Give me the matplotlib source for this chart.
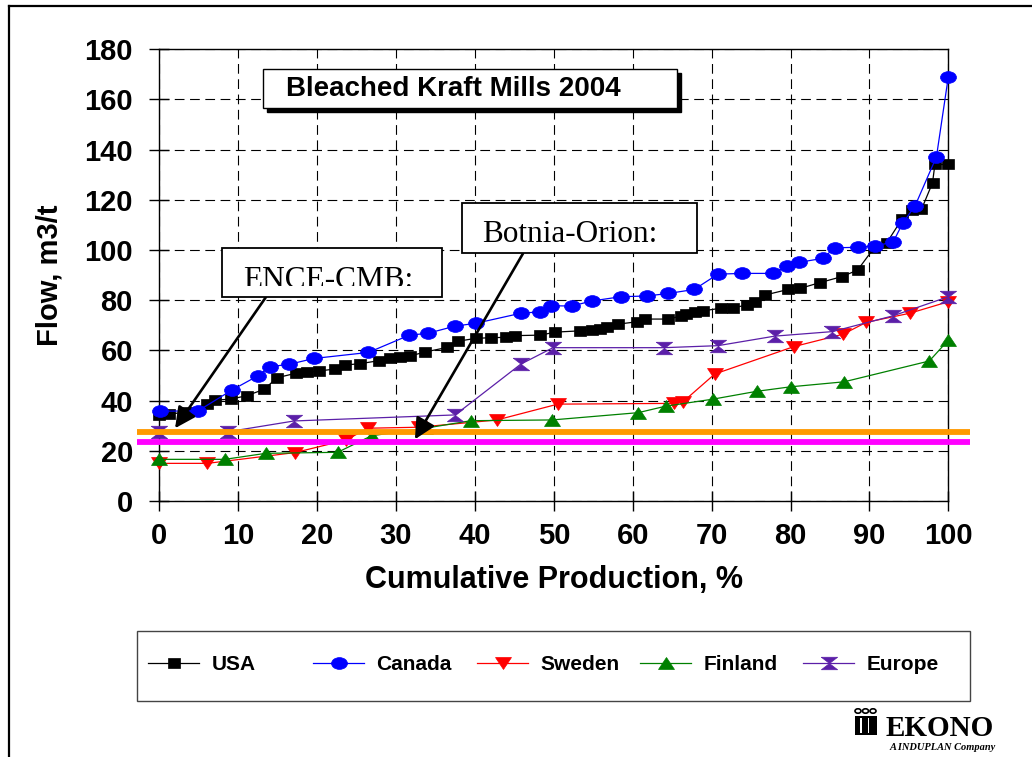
import matplotlib
matplotlib.use("Agg")
import matplotlib.pyplot as plt
from matplotlib import font_manager as fm
from matplotlib.markers import MarkerStyle
from matplotlib.path import Path
from matplotlib.transforms import Affine2D
from matplotlib.patches import Rectangle, Circle
from matplotlib.lines import Line2D

# ---- data (cumulative production %, flow m3/t) ----
usa_x = [0.0, 1.2, 3.5, 6.0, 7.1, 9.1, 11.1, 13.3, 14.9, 17.3, 18.7, 20.2, 22.3, 23.5,
         25.4, 27.8, 29.2, 30.5, 31.8, 33.7, 36.5, 37.9, 40.1, 42.1, 43.9, 45.1, 48.3,
         50.2, 53.3, 54.9, 55.9, 56.8, 58.2, 60.5, 61.6, 64.5, 66.1, 66.8, 67.9, 68.9,
         71.2, 72.7, 74.5, 75.5, 76.8, 79.7, 81.2, 83.7, 86.5, 88.5, 90.6, 92.2, 94.1,
         95.4, 96.6, 98.0, 98.3, 100.0]
usa_y = [34.3, 34.5, 35.6, 38.6, 40.2, 40.6, 42.0, 44.5, 49.1, 50.9, 51.3, 51.8, 52.6, 54.2,
         54.7, 55.9, 56.8, 57.5, 57.8, 59.4, 61.2, 63.7, 64.8, 65.1, 65.2, 65.9, 66.1,
         67.3, 67.8, 68.1, 68.5, 69.5, 70.5, 71.4, 72.5, 72.5, 73.7, 74.4, 75.4, 75.8,
         76.8, 77.0, 78.1, 79.4, 82.1, 84.3, 84.7, 87.0, 89.4, 92.0, 100.9, 102.9, 112.2,
         115.9, 116.2, 126.8, 134.1, 134.1]

canada_x = [0.1, 4.9, 9.2, 12.5, 14.0, 16.5, 19.6, 26.5, 31.7, 34.0, 37.5, 40.1, 45.8, 48.3,
            49.7, 52.3, 54.8, 58.5, 61.8, 64.5, 67.8, 70.8, 73.9, 77.8, 79.6, 81.1, 84.1,
            85.6, 88.6, 90.7, 93.0, 94.2, 95.8, 98.5, 100.0]
canada_y = [35.8, 35.9, 44.2, 49.9, 53.5, 54.5, 56.8, 59.2, 66.1, 66.8, 69.7, 70.8, 74.8, 75.4,
            77.8, 77.7, 79.7, 81.4, 81.7, 82.7, 84.3, 90.4, 90.7, 90.7, 93.8, 95.1, 96.7,
            100.9, 101.1, 101.7, 103.1, 110.6, 117.7, 137.2, 169.0]

sweden_x = [0.0, 6.1, 17.2, 23.7, 26.4, 32.9, 42.8, 50.5, 65.2, 66.4, 70.4, 80.4, 86.7, 89.6,
            95.1, 100.0]
sweden_y = [15.0, 15.0, 19.3, 24.3, 29.0, 29.4, 32.3, 38.6, 38.9, 39.6, 50.6, 61.5, 66.5, 71.2,
            74.8, 79.4]

finland_x = [0.0, 8.3, 13.5, 22.6, 26.9, 33.7, 39.5, 49.8, 60.7, 64.2, 70.2, 75.7, 80.0, 86.8,
             97.6, 100.0]
finland_y = [16.6, 16.6, 19.0, 19.4, 26.0, 29.0, 32.0, 32.3, 35.2, 37.8, 40.6, 43.7, 45.5, 47.5,
             55.8, 64.1]

europe_x = [0.0, 8.7, 17.1, 37.5, 45.8, 49.9, 64.0, 70.8, 78.0, 85.3, 93.0, 100.0]
europe_y = [27.6, 27.6, 31.9, 34.3, 54.5, 61.1, 61.1, 61.9, 65.7, 67.5, 73.8, 81.4]

ence_level = 27.6
botnia_level = 23.7

series_names = ["USA", "Canada", "Sweden", "Finland", "Europe"]
x_ticks = list(range(0, 101, 10))
y_ticks = list(range(0, 181, 20))

# ---- fonts ----
plt.rcParams["lines.scale_dashes"] = False
names = {f.name for f in fm.fontManager.ttflist}
SANS = "Liberation Sans" if "Liberation Sans" in names else "DejaVu Sans"
SERIF = "Liberation Serif" if "Liberation Serif" in names else "DejaVu Serif"
NARROW = "Liberation Sans Narrow" if "Liberation Sans Narrow" in names else SANS
plt.rcParams["font.family"] = [SANS, "DejaVu Sans"]

W, H = 1032, 757
fig = plt.figure(figsize=(W / 100, H / 100), dpi=100)


def fx(px):
    return px / W


def fy(py):
    return 1 - py / H


ax = fig.add_axes([fx(159.3), fy(501), fx(948.3) - fx(159.3), fy(49.3) - fy(501)])


def stretched(m, sx):
    return MarkerStyle(m, transform=Affine2D().scale(sx, 1.0))


hourglass = Path([(-0.5, 0.5), (0.5, 0.5), (0, 0), (0.5, -0.5), (-0.5, -0.5), (0, 0), (-0.5, 0.5)])

styles = [
    (usa_x, usa_y, "black", stretched("s", 1.2), 7),
    (canada_x, canada_y, "#0000FF", stretched("o", 1.35), 8.5),
    (sweden_x, sweden_y, "#FF0000", stretched("v", 1.45), 8),
    (finland_x, finland_y, "#008000", stretched("^", 1.4), 8.5),
    (europe_x, europe_y, "#5B1FA8", stretched(hourglass, 1.3), 9),
]
handles = []
for (xs, ys, col, mk, ms), name in zip(styles, series_names):
    ln, = ax.plot(xs, ys, color=col, lw=0.9, marker=mk, ms=ms, mfc=col, mec=col,
                  mew=0.5, clip_on=False, zorder=3, label=name)
    handles.append(ln)

# reference levels, drawn a bit past the frame
ax.plot([-2.8, 102.7], [ence_level, ence_level], color="#FF9900", lw=4.2,
        clip_on=False, zorder=5, solid_capstyle="butt")
ax.plot([-2.8, 102.7], [botnia_level, botnia_level], color="#FF00FF", lw=4.2,
        clip_on=False, zorder=5, solid_capstyle="butt")

ax.set_xlim(0, 100)
ax.set_ylim(0, 180)
ax.set_xticks(x_ticks)
ax.set_yticks(y_ticks)
ax.grid(True, color="black", lw=0.8, ls=(0, (7, 4)))
ax.set_axisbelow(True)
for s in ax.spines.values():
    s.set_linewidth(1.0)
ax.tick_params(direction="inout", length=14, width=1, labelsize=21)
ax.tick_params(axis="y", pad=12)
ax.tick_params(axis="x", pad=8)
for lab in ax.get_xticklabels() + ax.get_yticklabels():
    lab.set_fontweight("bold")
ax.set_xlabel("Cumulative Production, %", fontsize=22, fontweight="bold", labelpad=11)
ax.set_ylabel("Flow, m3/t", fontsize=21, fontweight="bold", labelpad=15)

# ---- title box with shadow ----
fig.add_artist(Rectangle((fx(266.7), fy(111.7)), fx(676.7) - fx(262.7), fy(69.3) - fy(107.7),
                         transform=fig.transFigure, facecolor="black", edgecolor="black", zorder=6))
fig.add_artist(Rectangle((fx(262.7), fy(107.7)), fx(676.7) - fx(262.7), fy(69.3) - fy(107.7),
                         transform=fig.transFigure, facecolor="white", edgecolor="black",
                         lw=1, zorder=7))
fig.text(fx(286), fy(89), "Bleached Kraft Mills 2004", fontsize=20, fontweight="bold",
         ha="left", va="center", zorder=8)

# ---- annotation boxes ----
fig.add_artist(Rectangle((fx(221.7), fy(296.7)), fx(441.7) - fx(221.7), fy(248.3) - fy(296.7),
                         transform=fig.transFigure, facecolor="white", edgecolor="black",
                         lw=1.3, zorder=7))
clip = Rectangle((fx(223), fy(285.5)), fx(440) - fx(223), fy(250) - fy(285.5),
                 transform=fig.transFigure)
t = fig.text(fx(243), fy(287.5), "ENCE-CMB:", fontsize=22.5, family=SERIF,
             ha="left", va="baseline", zorder=8)
t.set_clip_path(clip)

fig.add_artist(Rectangle((fx(461.7), fy(253.3)), fx(697.3) - fx(461.7), fy(202.7) - fy(253.3),
                         transform=fig.transFigure, facecolor="white", edgecolor="black",
                         lw=1.3, zorder=7))
fig.text(fx(482.5), fy(242), "Botnia-Orion:", fontsize=22.5, family=SERIF,
         ha="left", va="baseline", zorder=8)

arrow = dict(arrowstyle="-|>,head_length=0.9,head_width=0.45", color="black", lw=1.9,
             mutation_scale=14, shrinkA=0, shrinkB=0)
ax.annotate("", xy=(2.0, 29.0), xycoords="data", xytext=(fx(266), fy(297)),
            textcoords="figure fraction", arrowprops=arrow, zorder=9, annotation_clip=False)
ax.annotate("", xy=(32.4, 24.6), xycoords="data", xytext=(fx(523), fy(253.5)),
            textcoords="figure fraction", arrowprops=arrow, zorder=9, annotation_clip=False)

# ---- legend box with evenly spaced entries ----
fig.add_artist(Rectangle((fx(136.5), fy(701)), fx(970) - fx(136.5), fy(631) - fy(701),
                         transform=fig.transFigure, facecolor="white", edgecolor="#444444",
                         lw=1, zorder=1))
entry_x = [148, 313, 477, 640, 803]
for h, name, ex in zip(handles, series_names, entry_x):
    lg = fig.legend([h], [name], loc="center left", bbox_to_anchor=(fx(ex), fy(665)),
                    frameon=False, borderpad=0, borderaxespad=0, handlelength=2.45,
                    handletextpad=0.6, prop=dict(family=NARROW, weight="bold", size=15))
    lg.set_zorder(2)

# ---- page frame ----
fig.add_artist(Line2D([fx(8.5), fx(8.5)], [fy(5.5), 0], transform=fig.transFigure,
                      color="black", lw=1.6))
fig.add_artist(Line2D([fx(8.5), 1], [fy(5.5), fy(5.5)], transform=fig.transFigure,
                      color="black", lw=1.6))

# ---- EKONO logo ----
for cx in (858, 865.5, 873):
    fig.add_artist(Circle((fx(cx), fy(711)), 3.0 / W, transform=fig.transFigure,
                          facecolor="white", edgecolor="black", lw=1.2))
fig.add_artist(Rectangle((fx(854.5), fy(735)), fx(877) - fx(854.5), fy(716) - fy(735),
                         transform=fig.transFigure, facecolor="black", edgecolor="none"))
for sx in (860, 867.5):
    fig.add_artist(Rectangle((fx(sx), fy(733)), fx(sx + 1.5) - fx(sx), fy(718) - fy(733),
                             transform=fig.transFigure, facecolor="white", edgecolor="none"))
fig.text(fx(886), fy(729), "EKONO", fontsize=21, fontweight="bold", family=SERIF,
         ha="left", va="center")
fig.text(fx(890), fy(747), "A INDUPLAN Company", fontsize=7.5, fontweight="bold",
         style="italic", family=SERIF, ha="left", va="center")

fig.savefig("out.png", dpi=100)
